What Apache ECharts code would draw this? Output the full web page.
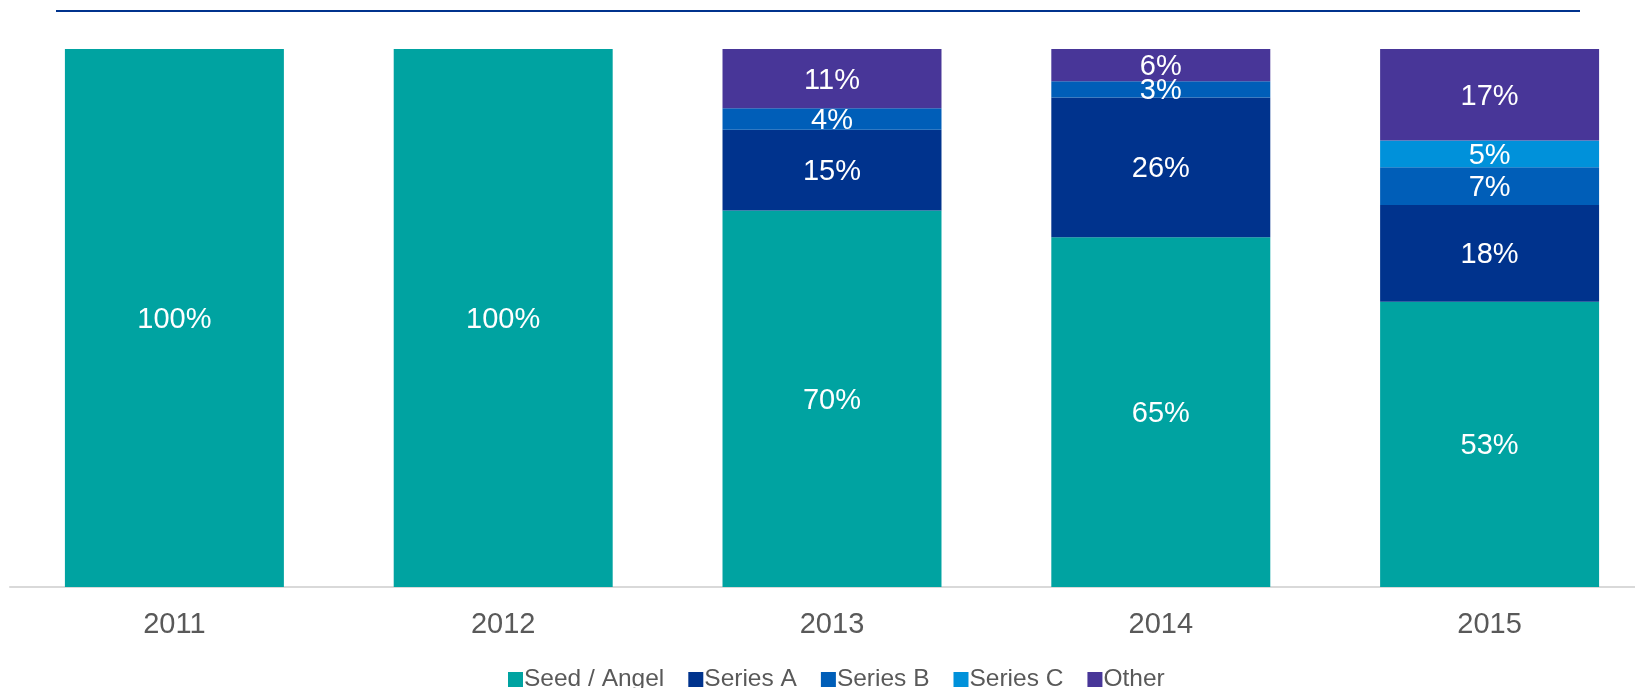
<!DOCTYPE html>
<html>
<head>
<meta charset="utf-8">
<script src="https://cdn.jsdelivr.net/npm/echarts@6/dist/echarts.min.js"></script>
<style>
  html, body { margin: 0; padding: 0; background: #fff; }
  #chart { width: 1635px; height: 688px; }
</style>
</head>
<body>
<div id="chart"></div>
<script>
// data (percent of deals per year)
const years = ['2011', '2012', '2013', '2014', '2015']
const seedAngel = [100, 100, 70, 65, 53]
const seriesA = [null, null, 15, 26, 18]
const seriesB = [null, null, 4, 3, 7]
const seriesC = [null, null, null, null, 5]
const other = [null, null, 11, 6, 17]

const seriesNames = ['Seed / Angel', 'Series A', 'Series B', 'Series C', 'Other']
const seriesData = [seedAngel, seriesA, seriesB, seriesC, other]
const colors = ['#00A3A1', '#00338D', '#005EB8', '#0091DA', '#483698']

const font = '"Liberation Sans", Arial, sans-serif'

const chartDom = echarts.init(document.getElementById('chart'))

const option = {
	backgroundColor: '#fff',
	animation: false,
	color: colors,
	graphic: [
		{
			// thin rule across the top of the slide
			type: 'line',
			shape: { x1: 56, y1: 11, x2: 1580, y2: 11 },
			style: { stroke: '#00338D', lineWidth: 2 }
		}
	],
	legend: {
		bottom: -9,
		left: 503,
		itemWidth: 15,
		itemHeight: 15,
		itemGap: 24,
		icon: 'rect',
		textStyle: {
			color: '#595959',
			fontSize: 24.5,
			fontFamily: font,
			padding: [0, 0, 0, -4]
		},
		data: seriesNames
	},
	grid: {
		left: 10,
		top: 49,
		width: 1644,
		bottom: 101,
		containLabel: false,
		outerBoundsMode: 'none'
	},
	xAxis: {
		type: 'category',
		data: years,
		axisTick: { show: false },
		axisLine: {
			lineStyle: { color: '#D9D9D9', width: 2 }
		},
		axisLabel: {
			color: '#595959',
			fontSize: 29,
			fontFamily: font,
			margin: 23
		}
	},
	yAxis: {
		type: 'value',
		min: 0,
		max: 100,
		show: false,
		splitLine: { show: false }
	},
	series: seriesNames.map((name, i) => ({
		name: name,
		type: 'bar',
		stack: 'total',
		barCategoryGap: '33.4%',
		data: seriesData[i],
		itemStyle: { color: colors[i] },
		label: {
			show: true,
			position: 'inside',
			offset: [0, 2],
			color: '#fff',
			fontSize: 29,
			fontFamily: font,
			formatter: p => (p.value ? p.value + '%' : '')
		}
	}))
}

chartDom.setOption(option, true)
</script>
</body>
</html>
